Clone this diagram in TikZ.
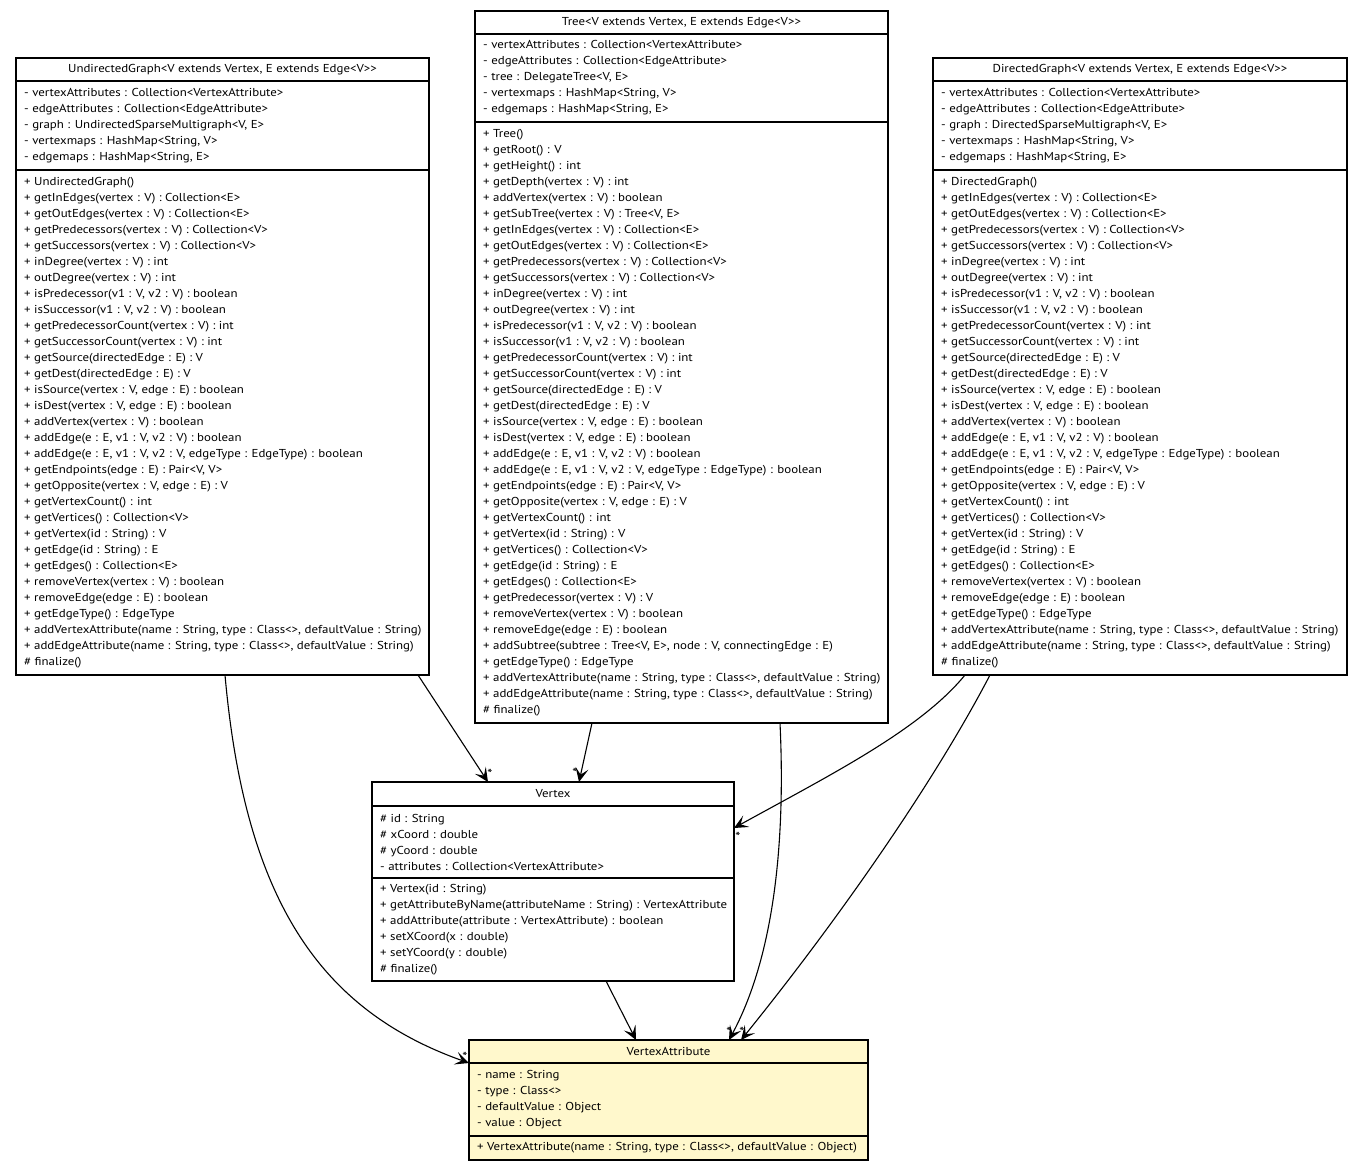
\documentclass[tikz,border=0pt]{standalone}
\usepackage{fontspec}
\setmainfont{PT Sans}[FakeStretch=1.12]
\usetikzlibrary{arrows.meta}
\definecolor{vafill}{RGB}{255,248,204}
\begin{document}
\begin{tikzpicture}[x=1pt,y=-1pt,
  box/.style={draw, line width=1.1pt, inner sep=0pt, outer sep=0pt, anchor=north west},
  hdr/.style={box, font=\fontsize{11.5}{16}\selectfont},
  txt/.style={anchor=west, inner sep=0pt, align=left, font=\fontsize{11.5}{16}\selectfont},
  assoc/.style={line width=1.1pt, -{Stealth[length=14pt,width=13pt,inset=6.5pt]}},
  mult/.style={font=\fontsize{13}{13}\selectfont, inner sep=0pt}
]
\useasboundingbox (0,0) rectangle (1363,1171);

% ---------- UndirectedGraph ----------
\node[hdr, minimum width=413, minimum height=23] (ugh) at (16,58) {UndirectedGraph<V extends Vertex, E extends Edge<V>{}>};
\node[box, minimum width=413, minimum height=89] (uga) at (ugh.south west) {};
\node[box, minimum width=413, minimum height=505] (ugm) at (uga.south west) {};
\node[txt] (ugat) at ([xshift=8pt]uga.west) {- vertexAttributes : Collection<VertexAttribute>\\
- edgeAttributes : Collection<EdgeAttribute>\\
- graph : UndirectedSparseMultigraph<V, E>\\
- vertexmaps : HashMap<String, V>\\
- edgemaps : HashMap<String, E>};
\node[txt] (ugmt) at ([xshift=8pt]ugm.west) {+ UndirectedGraph()\\
+ getInEdges(vertex : V) : Collection<E>\\
+ getOutEdges(vertex : V) : Collection<E>\\
+ getPredecessors(vertex : V) : Collection<V>\\
+ getSuccessors(vertex : V) : Collection<V>\\
+ inDegree(vertex : V) : int\\
+ outDegree(vertex : V) : int\\
+ isPredecessor(v1 : V, v2 : V) : boolean\\
+ isSuccessor(v1 : V, v2 : V) : boolean\\
+ getPredecessorCount(vertex : V) : int\\
+ getSuccessorCount(vertex : V) : int\\
+ getSource(directedEdge : E) : V\\
+ getDest(directedEdge : E) : V\\
+ isSource(vertex : V, edge : E) : boolean\\
+ isDest(vertex : V, edge : E) : boolean\\
+ addVertex(vertex : V) : boolean\\
+ addEdge(e : E, v1 : V, v2 : V) : boolean\\
+ addEdge(e : E, v1 : V, v2 : V, edgeType : EdgeType) : boolean\\
+ getEndpoints(edge : E) : Pair<V, V>\\
+ getOpposite(vertex : V, edge : E) : V\\
+ getVertexCount() : int\\
+ getVertices() : Collection<V>\\
+ getVertex(id : String) : V\\
+ getEdge(id : String) : E\\
+ getEdges() : Collection<E>\\
+ removeVertex(vertex : V) : boolean\\
+ removeEdge(edge : E) : boolean\\
+ getEdgeType() : EdgeType\\
+ addVertexAttribute(name : String, type : Class<>, defaultValue : String)\\
+ addEdgeAttribute(name : String, type : Class<>, defaultValue : String)\\
\# finalize()};

% ---------- Tree ----------
\node[hdr, minimum width=413, minimum height=23] (th) at (475,11) {Tree<V extends Vertex, E extends Edge<V>{}>};
\node[box, minimum width=413, minimum height=88] (ta) at (th.south west) {};
\node[box, minimum width=413, minimum height=601] (tm) at (ta.south west) {};
\node[txt] (tat) at ([xshift=8pt]ta.west) {- vertexAttributes : Collection<VertexAttribute>\\
- edgeAttributes : Collection<EdgeAttribute>\\
- tree : DelegateTree<V, E>\\
- vertexmaps : HashMap<String, V>\\
- edgemaps : HashMap<String, E>};
\node[txt] (tmt) at ([xshift=8pt]tm.west) {+ Tree()\\
+ getRoot() : V\\
+ getHeight() : int\\
+ getDepth(vertex : V) : int\\
+ addVertex(vertex : V) : boolean\\
+ getSubTree(vertex : V) : Tree<V, E>\\
+ getInEdges(vertex : V) : Collection<E>\\
+ getOutEdges(vertex : V) : Collection<E>\\
+ getPredecessors(vertex : V) : Collection<V>\\
+ getSuccessors(vertex : V) : Collection<V>\\
+ inDegree(vertex : V) : int\\
+ outDegree(vertex : V) : int\\
+ isPredecessor(v1 : V, v2 : V) : boolean\\
+ isSuccessor(v1 : V, v2 : V) : boolean\\
+ getPredecessorCount(vertex : V) : int\\
+ getSuccessorCount(vertex : V) : int\\
+ getSource(directedEdge : E) : V\\
+ getDest(directedEdge : E) : V\\
+ isSource(vertex : V, edge : E) : boolean\\
+ isDest(vertex : V, edge : E) : boolean\\
+ addEdge(e : E, v1 : V, v2 : V) : boolean\\
+ addEdge(e : E, v1 : V, v2 : V, edgeType : EdgeType) : boolean\\
+ getEndpoints(edge : E) : Pair<V, V>\\
+ getOpposite(vertex : V, edge : E) : V\\
+ getVertexCount() : int\\
+ getVertex(id : String) : V\\
+ getVertices() : Collection<V>\\
+ getEdge(id : String) : E\\
+ getEdges() : Collection<E>\\
+ getPredecessor(vertex : V) : V\\
+ removeVertex(vertex : V) : boolean\\
+ removeEdge(edge : E) : boolean\\
+ addSubtree(subtree : Tree<V, E>, node : V, connectingEdge : E)\\
+ getEdgeType() : EdgeType\\
+ addVertexAttribute(name : String, type : Class<>, defaultValue : String)\\
+ addEdgeAttribute(name : String, type : Class<>, defaultValue : String)\\
\# finalize()};

% ---------- DirectedGraph ----------
\node[hdr, minimum width=414, minimum height=23] (dh) at (933,58) {DirectedGraph<V extends Vertex, E extends Edge<V>{}>};
\node[box, minimum width=414, minimum height=89] (da) at (dh.south west) {};
\node[box, minimum width=414, minimum height=505] (dm) at (da.south west) {};
\node[txt] (dat) at ([xshift=8pt]da.west) {- vertexAttributes : Collection<VertexAttribute>\\
- edgeAttributes : Collection<EdgeAttribute>\\
- graph : DirectedSparseMultigraph<V, E>\\
- vertexmaps : HashMap<String, V>\\
- edgemaps : HashMap<String, E>};
\node[txt] (dmt) at ([xshift=8pt]dm.west) {+ DirectedGraph()\\
+ getInEdges(vertex : V) : Collection<E>\\
+ getOutEdges(vertex : V) : Collection<E>\\
+ getPredecessors(vertex : V) : Collection<V>\\
+ getSuccessors(vertex : V) : Collection<V>\\
+ inDegree(vertex : V) : int\\
+ outDegree(vertex : V) : int\\
+ isPredecessor(v1 : V, v2 : V) : boolean\\
+ isSuccessor(v1 : V, v2 : V) : boolean\\
+ getPredecessorCount(vertex : V) : int\\
+ getSuccessorCount(vertex : V) : int\\
+ getSource(directedEdge : E) : V\\
+ getDest(directedEdge : E) : V\\
+ isSource(vertex : V, edge : E) : boolean\\
+ isDest(vertex : V, edge : E) : boolean\\
+ addVertex(vertex : V) : boolean\\
+ addEdge(e : E, v1 : V, v2 : V) : boolean\\
+ addEdge(e : E, v1 : V, v2 : V, edgeType : EdgeType) : boolean\\
+ getEndpoints(edge : E) : Pair<V, V>\\
+ getOpposite(vertex : V, edge : E) : V\\
+ getVertexCount() : int\\
+ getVertices() : Collection<V>\\
+ getVertex(id : String) : V\\
+ getEdge(id : String) : E\\
+ getEdges() : Collection<E>\\
+ removeVertex(vertex : V) : boolean\\
+ removeEdge(edge : E) : boolean\\
+ getEdgeType() : EdgeType\\
+ addVertexAttribute(name : String, type : Class<>, defaultValue : String)\\
+ addEdgeAttribute(name : String, type : Class<>, defaultValue : String)\\
\# finalize()};

% ---------- Vertex ----------
\node[hdr, minimum width=362, minimum height=24] (vh) at (372,782) {Vertex};
\node[box, minimum width=362, minimum height=72] (vta) at (vh.south west) {};
\node[box, minimum width=362, minimum height=103] (vm) at (vta.south west) {};
\node[txt] (vat) at ([xshift=8pt]vta.west) {\# id : String\\
\# xCoord : double\\
\# yCoord : double\\
- attributes : Collection<VertexAttribute>};
\node[txt] (vmt) at ([xshift=8pt]vm.west) {+ Vertex(id : String)\\
+ getAttributeByName(attributeName : String) : VertexAttribute\\
+ addAttribute(attribute : VertexAttribute) : boolean\\
+ setXCoord(x : double)\\
+ setYCoord(y : double)\\
\# finalize()};

% ---------- VertexAttribute ----------
\node[hdr, fill=vafill, minimum width=399, minimum height=23] (vah) at (469,1040) {VertexAttribute};
\node[box, fill=vafill, minimum width=399, minimum height=73] (vaa) at (vah.south west) {};
\node[box, fill=vafill, minimum width=399, minimum height=24] (vam) at (vaa.south west) {};
\node[txt] (vaat) at ([xshift=8pt]vaa.west) {- name : String\\
- type : Class<>\\
- defaultValue : Object\\
- value : Object};
\node[txt] (vamt) at ([xshift=8pt]vam.west) {+ VertexAttribute(name : String, type : Class<>, defaultValue : Object)};

% ---------- associations ----------
\draw[assoc] ([xshift=-11pt]ugm.south east) -- ([xshift=116pt]vh.north west);
\draw[assoc] ([xshift=117pt]tm.south west) -- ([xshift=207pt]vh.north west);
\draw[assoc] ([xshift=32pt]dm.south west) .. controls (920,730) and (830,775) .. ([yshift=14pt]vta.east);
\draw[assoc] ([xshift=209pt]ugm.south west) .. controls (245,900) and (320,1010) .. (vah.south west);
\draw[assoc] ([xshift=234pt]vm.south west) -- ([xshift=167pt]vah.north west);
\draw[assoc] ([xshift=305pt]tm.south west) .. controls (786,850) and (772,960) .. ([xshift=260pt]vah.north west);
\draw[assoc] ([xshift=57pt]dm.south west) .. controls (930,790) and (830,930) .. ([xshift=272pt]vah.north west);

% ---------- multiplicities ----------
\node[mult] (m1) at (490,774) {*};
\node[mult] (m2) at (575,773) {*};
\node[mult] (m3) at (738,837) {*};
\node[mult] (m4) at (465,1057) {*};
\node[mult] (m6) at (729,1032) {*};
\node[mult] (m7) at (742,1032) {*};
\end{tikzpicture}
\end{document}
